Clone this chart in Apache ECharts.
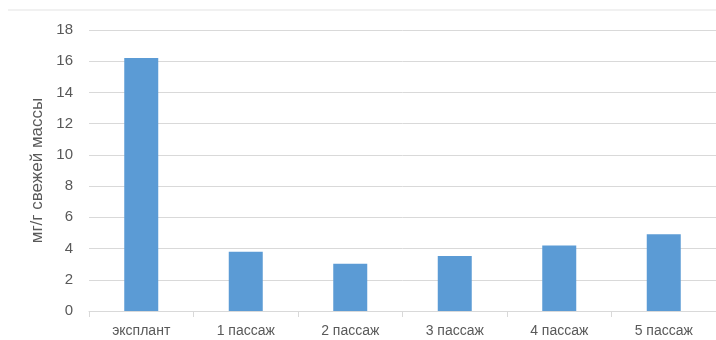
<!DOCTYPE html>
<html>
<head>
<meta charset="utf-8">
<script src="https://cdn.jsdelivr.net/npm/echarts@6/dist/echarts.min.js"></script>
<style>
  html, body { margin: 0; padding: 0; background: #fff; }
  #chart { width: 716px; height: 340px; }
</style>
</head>
<body>
<div id="chart"></div>
<script>
// Content per fresh weight by culture stage
const categories = ['эксплант', '1 пассаж', '2 пассаж', '3 пассаж', '4 пассаж', '5 пассаж'];
const values = [16.2, 3.8, 3.03, 3.52, 4.2, 4.92];
const yTicks = { min: 0, max: 18, interval: 2 };
const yAxisTitle = 'мг/г свежей массы';

const FONT = 'Liberation Sans';
const chart = echarts.init(document.getElementById('chart'), null, { renderer: 'canvas' });

chart.setOption({
  animation: false,
  backgroundColor: '#ffffff',
  textStyle: { fontFamily: FONT },
  graphic: [{
    type: 'line',
    shape: { x1: 8, y1: 10, x2: 716, y2: 10 },
    style: { stroke: '#e3e3e3', lineWidth: 1 }
  }],
  grid: { left: 89, top: 30, width: 633, height: 281, containLabel: false },
  xAxis: {
    type: 'category',
    data: categories,
    axisLine: { show: true, lineStyle: { color: '#d9d9d9', width: 1 } },
    axisTick: { show: true, alignWithLabel: false, length: 6, lineStyle: { color: '#d9d9d9' } },
    axisLabel: { color: '#595959', fontSize: 14, margin: 13, fontFamily: FONT },
    splitLine: { show: false }
  },
  yAxis: {
    type: 'value',
    min: yTicks.min,
    max: yTicks.max,
    interval: yTicks.interval,
    name: yAxisTitle,
    nameLocation: 'middle',
    nameRotate: 90,
    nameGap: 39,
    nameTextStyle: { color: '#595959', fontSize: 17, fontFamily: FONT },
    axisLine: { show: false },
    axisTick: { show: false },
    axisLabel: { color: '#595959', fontSize: 15, margin: 16, fontFamily: FONT },
    splitLine: { show: true, lineStyle: { color: '#d9d9d9', width: 1 } }
  },
  series: [{
    type: 'bar',
    data: values,
    barWidth: 34,
    itemStyle: { color: '#5b9bd5' }
  }]
});
</script>
</body>
</html>
